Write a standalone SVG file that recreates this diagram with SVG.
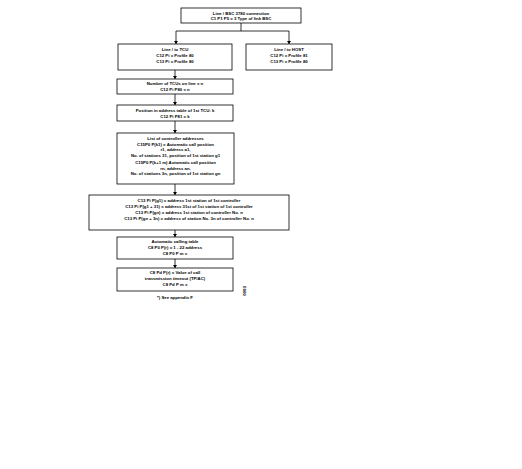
<svg xmlns="http://www.w3.org/2000/svg" width="522" height="469" viewBox="0 0 522 469">
<style>
.b{fill:#fff;stroke:#000;stroke-width:0.8}
.t{font-family:"Liberation Sans",Arial,sans-serif;font-size:4.3px;font-weight:bold;text-anchor:middle;fill:#000}
.c{fill:none;stroke:#000;stroke-width:0.8}
</style>
<defs>
<marker id="a" markerWidth="4" markerHeight="3" refX="2" refY="3" orient="auto" markerUnits="userSpaceOnUse" viewBox="0 0 4 3">
<path d="M0,0 L4,0 L2,3 Z" transform="rotate(0)" fill="#000"/>
</marker>
</defs>
<rect width="522" height="469" fill="#fff"/>
<g id="connectors">
<path class="c" d="M241,23 V31 M176,31 H289"/>
<path class="c" d="M176,31 V44"/>
<path class="c" d="M289,31 V44"/>
<path class="c" d="M175,70 V79"/>
<path class="c" d="M175,94 V105"/>
<path class="c" d="M175,121 V133"/>
<path class="c" d="M175,184 V195"/>
<path class="c" d="M175,230 V237"/>
<path class="c" d="M175,259 V268"/>
<path d="M174,41 L178,41 L176,44 Z M287,41 L291,41 L289,44 Z M173,76 L177,76 L175,79 Z M173,102 L177,102 L175,105 Z M173,130 L177,130 L175,133 Z M173,192 L177,192 L175,195 Z M173,234 L177,234 L175,237 Z M173,265 L177,265 L175,268 Z" fill="#000"/>
</g>
<g id="n1"><rect class="b" x="181" y="8" width="120" height="15"/>
<text class="t" x="241" y="14.5">Line / BSC 3780 connection</text>
<text class="t" x="241" y="20">C1 P1 P5 = 3 Type of link BSC</text></g>
<g id="n2"><rect class="b" x="118" y="44" width="114" height="26"/>
<text class="t" x="175" y="51">Line / to TCU</text>
<text class="t" x="175" y="57">C12 Pi = Profile 80</text>
<text class="t" x="175" y="63">C13 Pi = Profile 80</text></g>
<g id="n3"><rect class="b" x="246" y="44" width="86" height="26"/>
<text class="t" x="289" y="51">Line / to HOST</text>
<text class="t" x="289" y="57">C12 Pi = Profile 81</text>
<text class="t" x="289" y="63">C13 Pi = Profile 80</text></g>
<g id="n4"><rect class="b" x="117" y="79" width="116" height="15"/>
<text class="t" x="175" y="85">Number of TCUs on line = n</text>
<text class="t" x="175" y="91">C12 Pi P80 = n</text></g>
<g id="n5"><rect class="b" x="117" y="105" width="116" height="16"/>
<text class="t" x="175" y="111.5">Position in address table of 1st TCU: k</text>
<text class="t" x="175" y="117.5">C12 Pi P81 = k</text></g>
<g id="n6"><rect class="b" x="117" y="133" width="117" height="51"/>
<text class="t" x="175.5" y="140">List of controller addresses</text>
<text class="t" x="175.5" y="145.5">C15P0 P(k1) = Automatic call position</text>
<text class="t" x="175.5" y="151">r1, address a1,</text>
<text class="t" x="175.5" y="156.5">No. of stations 31, position of 1st station g1</text>
<text class="t" x="175.5" y="164">C15P0 P(k+1 m) Automatic call position</text>
<text class="t" x="175.5" y="169.5">rn, address an,</text>
<text class="t" x="175.5" y="175">No. of stations 3n, position of 1st station gn</text></g>
<g id="n7"><rect class="b" x="89" y="195" width="200" height="35"/>
<text class="t" x="189" y="202">C13 Pi P(g1) = address 1st station of 1st controller</text>
<text class="t" x="189" y="207.5">C13 Pi P(g1 + 31) = address 31st of 1st station of 1st controller</text>
<text class="t" x="189" y="214">C13 Pi P(gn) = address 1st station of controller No. n</text>
<text class="t" x="189" y="219.5">C13 Pi P(gn + 3n) = address of station No. 3n of controller No. n</text></g>
<g id="n8"><rect class="b" x="117" y="237" width="116" height="22"/>
<text class="t" x="175" y="243">Automatic calling table</text>
<text class="t" x="175" y="249">C8 P0 P(r) = 1 - 22 address</text>
<text class="t" x="175" y="255">C8 P0 P m = </text></g>
<g id="n9"><rect class="b" x="117" y="268" width="116" height="23"/>
<text class="t" x="175" y="274">C8 Pd P(r) = Value of call</text>
<text class="t" x="175" y="280">transmission timeout (TP/AC)</text>
<text class="t" x="175" y="286">C8 Pd P m = </text></g>
<text class="t" x="175" y="299">*) See appendix F</text>
<text class="t" x="0" y="0" transform="translate(246,291) rotate(-90)">0903</text>
</svg>
